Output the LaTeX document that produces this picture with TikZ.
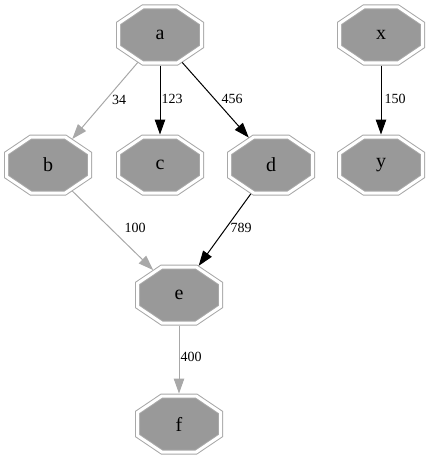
\documentclass[tikz,border=0pt]{standalone}
\usepackage{fontspec}
\setmainfont{Liberation Serif}
\usetikzlibrary{arrows.meta}
\definecolor{nodefill}{HTML}{999999}
\definecolor{rimgray}{HTML}{A8A8A8}

% An octagon whose size is set by minimum width/height,
% corners cut at the proportions of a regular octagon.
\makeatletter
\pgfdeclareshape{octbox}{%
  \savedanchor\centerpoint{%
    \pgf@x=.5\wd\pgfnodeparttextbox
    \pgf@y=.5\ht\pgfnodeparttextbox
    \advance\pgf@y by -.5\dp\pgfnodeparttextbox
  }%
  \savedanchor\halfsize{%
    \pgfmathsetlength\pgf@x{.5*\pgfkeysvalueof{/pgf/minimum width}+\pgfkeysvalueof{/pgf/outer xsep}}%
    \pgfmathsetlength\pgf@y{.5*\pgfkeysvalueof{/pgf/minimum height}+\pgfkeysvalueof{/pgf/outer ysep}}%
  }%
  \anchor{center}{\centerpoint}%
  \anchor{text}{\pgfpointorigin}%
  \anchor{north}{\halfsize \pgf@ya=\pgf@y \centerpoint \advance\pgf@y by \pgf@ya}%
  \anchor{south}{\halfsize \pgf@ya=\pgf@y \centerpoint \advance\pgf@y by -\pgf@ya}%
  \anchor{east}{\halfsize \pgf@xa=\pgf@x \centerpoint \advance\pgf@x by \pgf@xa}%
  \anchor{west}{\halfsize \pgf@xa=\pgf@x \centerpoint \advance\pgf@x by -\pgf@xa}%
  \anchorborder{%
    \edef\oct@dx{\the\pgf@x}\edef\oct@dy{\the\pgf@y}%
    \halfsize
    \edef\oct@W{\the\pgf@x}\edef\oct@H{\the\pgf@y}%
    \pgfmathsetmacro\oct@len{veclen(\oct@dx,\oct@dy)}%
    \pgfmathsetmacro\oct@ux{\oct@dx/\oct@len}%
    \pgfmathsetmacro\oct@uy{\oct@dy/\oct@len}%
    \pgfmathsetmacro\oct@ax{abs(\oct@ux)+0.005}%
    \pgfmathsetmacro\oct@ay{abs(\oct@uy)+0.005}%
    \pgfmathsetmacro\oct@t{min(\oct@W/\oct@ax,\oct@H/\oct@ay,1.41421/(\oct@ax/\oct@W+\oct@ay/\oct@H))}%
    \pgfmathsetmacro\oct@px{\oct@t*\oct@ux}%
    \pgfmathsetmacro\oct@py{\oct@t*\oct@uy}%
    \centerpoint
    \advance\pgf@x by \oct@px pt
    \advance\pgf@y by \oct@py pt
  }%
  \backgroundpath{%
    \centerpoint \edef\oct@cx{\the\pgf@x}\edef\oct@cy{\the\pgf@y}%
    \halfsize
    \pgfmathsetmacro\oct@w{\pgf@x-\pgfkeysvalueof{/pgf/outer xsep}}%
    \pgfmathsetmacro\oct@h{\pgf@y-\pgfkeysvalueof{/pgf/outer ysep}}%
    \pgfmathsetmacro\oct@kw{0.41421*\oct@w}%
    \pgfmathsetmacro\oct@kh{0.41421*\oct@h}%
    \pgfpathmoveto{\pgfpoint{\oct@cx+\oct@w pt}{\oct@cy+\oct@kh pt}}%
    \pgfpathlineto{\pgfpoint{\oct@cx+\oct@kw pt}{\oct@cy+\oct@h pt}}%
    \pgfpathlineto{\pgfpoint{\oct@cx-\oct@kw pt}{\oct@cy+\oct@h pt}}%
    \pgfpathlineto{\pgfpoint{\oct@cx-\oct@w pt}{\oct@cy+\oct@kh pt}}%
    \pgfpathlineto{\pgfpoint{\oct@cx-\oct@w pt}{\oct@cy-\oct@kh pt}}%
    \pgfpathlineto{\pgfpoint{\oct@cx-\oct@kw pt}{\oct@cy-\oct@h pt}}%
    \pgfpathlineto{\pgfpoint{\oct@cx+\oct@kw pt}{\oct@cy-\oct@h pt}}%
    \pgfpathlineto{\pgfpoint{\oct@cx+\oct@w pt}{\oct@cy-\oct@kh pt}}%
    \pgfpathclose
  }%
}
\makeatother

\tikzset{
  octo/.style={shape=octbox, minimum width=83pt, minimum height=56pt,
    inner sep=0pt, outer sep=2.5pt,
    draw=rimgray, line width=1pt, double=white, double distance=3pt,
    fill=nodefill, font=\fontsize{20}{22}\selectfont},
  link/.style={line width=1pt, -{Triangle[length=15pt,width=10.5pt]}},
  lightlink/.style={link, draw=rimgray},
  elabel/.style={font=\fontsize{14}{16}\selectfont, inner sep=0pt},
}
\begin{document}
\begin{tikzpicture}[x=1pt, y=-1pt]
  \useasboundingbox (0,0) rectangle (431,460);
  % nodes
  \node[octo] (a) at (160,35) {a};
  \node[octo] (x) at (381,35) {x};
  \node[octo] (b) at (48,165) {b};
  \node[octo] (c) at (160,165) {c};
  \node[octo] (d) at (271,165) {d};
  \node[octo] (y) at (381,165) {y};
  \node[octo] (e) at (179,295) {e};
  \node[octo] (f) at (179,424) {f};
  % connectors
  \draw[lightlink] (a.231) -- (b.47);
  \draw[link] (a.south) -- (c.north);
  \draw[link] (a.309) -- (d.129);
  \draw[link] (x.south) -- (y.north);
  \draw[lightlink] (b.313) -- (e.136);
  \draw[link] (d.235) -- (e.56);
  \draw[lightlink] (e.south) -- (f.north);
  % connector labels
  \node[elabel] (l34)  at (119,100) {34};
  \node[elabel] (l123) at (172,99)  {123};
  \node[elabel] (l456) at (232,99)  {456};
  \node[elabel] (l150) at (395,99)  {150};
  \node[elabel] (l100) at (135,228) {100};
  \node[elabel] (l789) at (241,228) {789};
  \node[elabel] (l400) at (191,357) {400};
\end{tikzpicture}
\end{document}
